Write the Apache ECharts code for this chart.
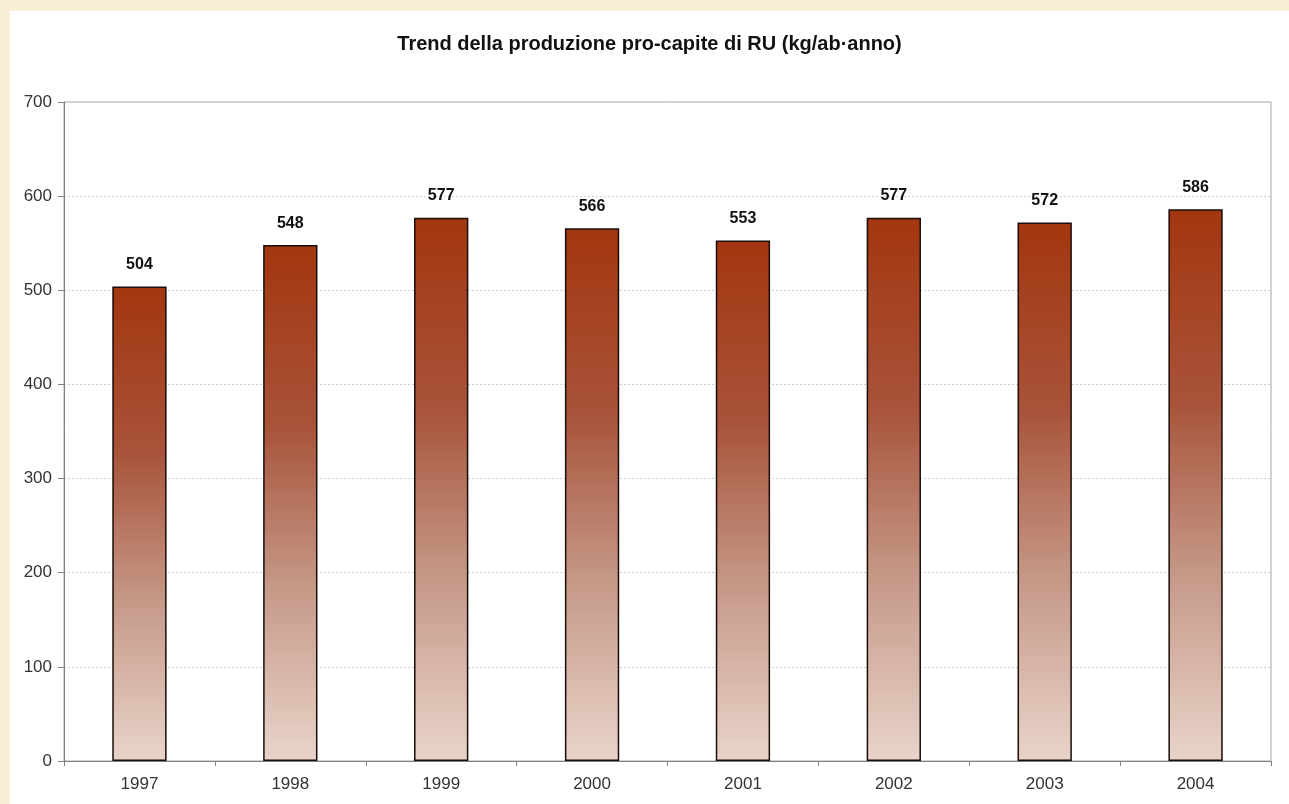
<!DOCTYPE html>
<html>
<head>
<meta charset="utf-8">
<script src="https://cdn.jsdelivr.net/npm/echarts@6/dist/echarts.min.js"></script>
<style>
  html, body { margin: 0; padding: 0; background: #faeed4; }
  #main { position: absolute; left: 10px; top: 11px; width: 1279px; height: 793px; background: #fff; }
</style>
</head>
<body>
<div id="main"></div>
<script>
// anni e produzione pro-capite (kg/ab·anno)
const years = ['1997', '1998', '1999', '2000', '2001', '2002', '2003', '2004'];
const values = [504, 548, 577, 566, 553, 577, 572, 586];
const yTicks = [0, 100, 200, 300, 400, 500, 600, 700];

const chart = echarts.init(document.getElementById('main'));
const font = 'Liberation Sans, Arial, sans-serif';

const barFill = new echarts.graphic.LinearGradient(0, 0, 0, 1, [
  { offset: 0, color: '#a3360f' },
  { offset: 0.35, color: '#a8533a' },
  { offset: 0.65, color: '#c49685' },
  { offset: 1, color: '#e9d4ca' }
]);

chart.setOption({
  animation: false,
  title: {
    text: 'Trend della produzione pro-capite di RU (kg/ab\u00b7anno)',
    left: 'center',
    top: 18,
    textStyle: { fontFamily: font, fontSize: 20, fontWeight: 'bold', color: '#111' }
  },
  grid: { left: 54, right: 18, top: 91, bottom: 43, show: true, borderColor: '#a6a6a6', borderWidth: 1 },
  xAxis: {
    type: 'category',
    data: years,
    axisLine: { lineStyle: { color: '#808080', width: 1 } },
    axisTick: { show: true, length: 5, lineStyle: { color: '#808080' } },
    axisLabel: { color: '#333', fontSize: 17, fontFamily: font, margin: 15 }
  },
  yAxis: {
    type: 'value',
    min: yTicks[0],
    max: yTicks[yTicks.length - 1],
    interval: 100,
    axisLine: { show: true, lineStyle: { color: '#808080', width: 1 } },
    axisTick: { show: true, length: 6, lineStyle: { color: '#808080' } },
    axisLabel: { color: '#333', fontSize: 17, fontFamily: font, margin: 12 },
    splitLine: { lineStyle: { color: '#cfcfcf', type: [2, 2], width: 1 } }
  },
  series: [{
    type: 'bar',
    data: values,
    barWidth: '36%',
    itemStyle: { color: barFill, borderColor: '#1a0d0a', borderWidth: 1.5 },
    label: {
      show: true,
      position: 'top',
      distance: 14,
      color: '#111',
      fontSize: 16,
      fontWeight: 'bold',
      fontFamily: font
    }
  }]
});
</script>
</body>
</html>
